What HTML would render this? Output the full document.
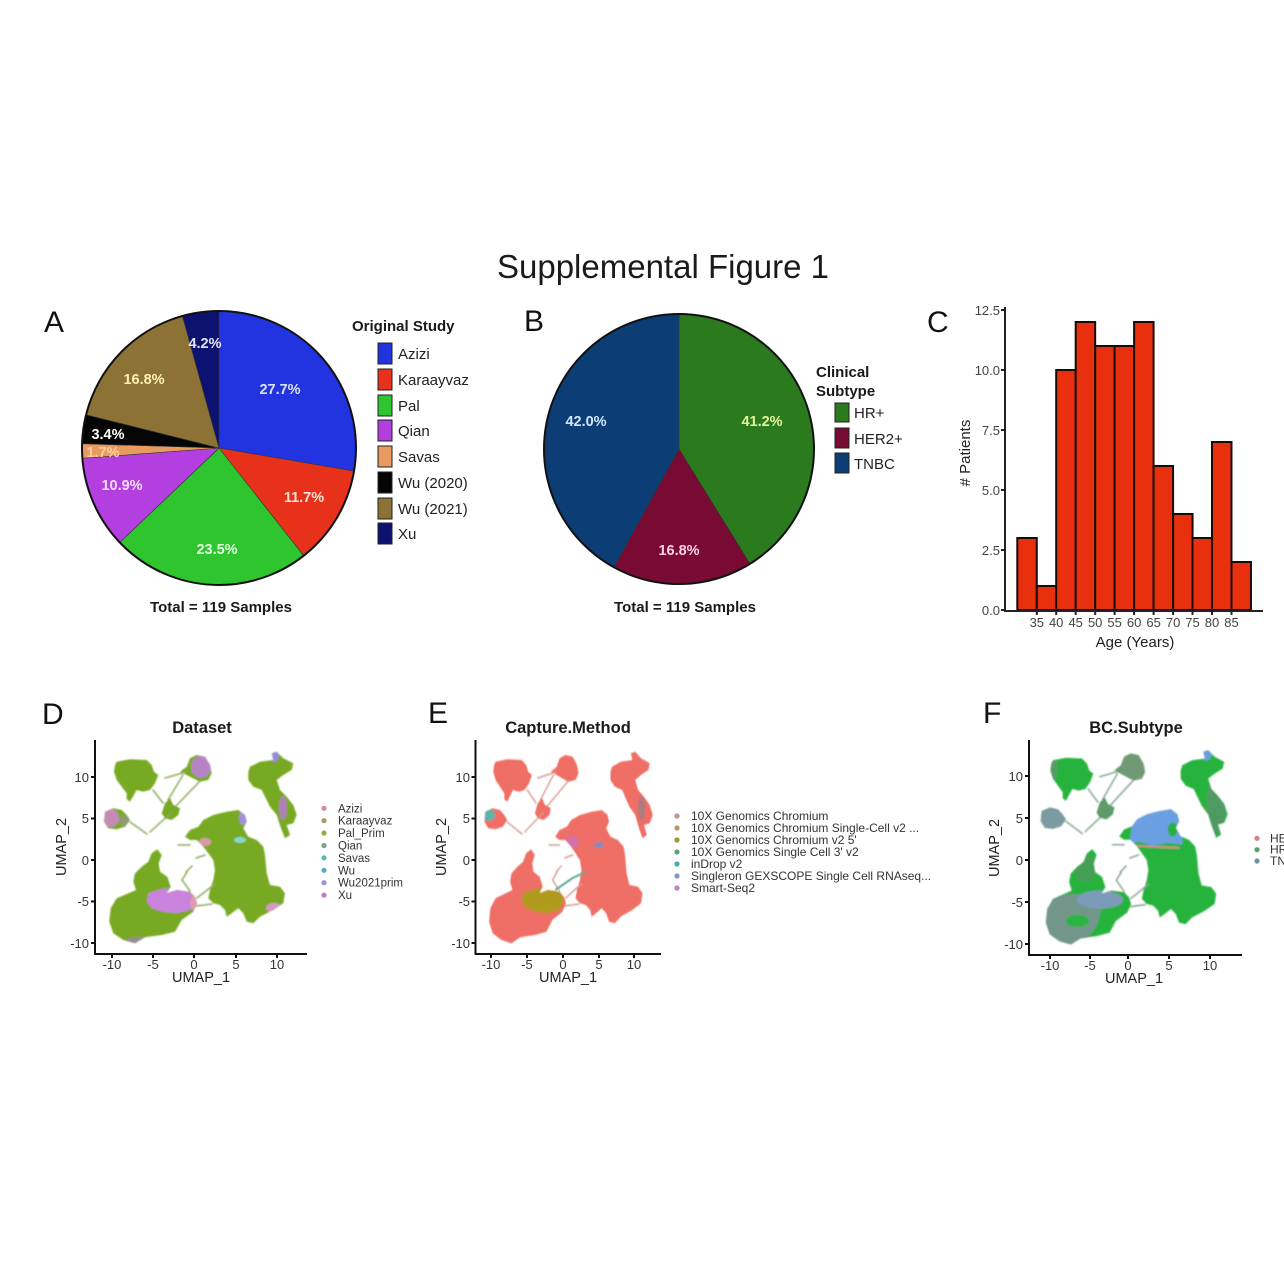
<!DOCTYPE html>
<html><head><meta charset="utf-8"><style>
html,body{margin:0;padding:0;background:#fff;}
svg{display:block;}
text{font-family:"Liberation Sans",Arial,sans-serif;}
</style></head><body>
<svg width="1284" height="1284" viewBox="0 0 1284 1284" xmlns="http://www.w3.org/2000/svg">
<rect width="1284" height="1284" fill="#fff"/>
<defs>
<filter id="soft" x="-5%" y="-5%" width="110%" height="110%"><feGaussianBlur stdDeviation="0.7"/></filter>
<path id="bl" d="M116.7,761.7 L130,759.3 L146.7,760 L151.7,765 L154,771.7 L158.3,775 L155,783.3 L150,790 L143.3,791.7 L136.7,790 L133.3,796 L130,801.7 L126.7,799.3 L126.7,793.3 L121.7,786.7 L116.7,780 L114,771.7 L115,765 Z
M190,758.3 L196.7,755 L205,756.7 L210,765 L211.7,773.3 L208.3,780 L200,781.7 L195,779.3 L190,776.7 L183.3,773.3 L180,771.7 L186.7,766.7 Z
M165,803.3 L170,798.3 L173.3,805 L180,808.3 L178.3,815 L171.7,820 L165,818.3 L161.7,813.3 Z
M105,811.7 L113.3,808.3 L121.7,810 L126.7,815 L130,820 L125,826.7 L116.7,829.3 L108.3,828.3 L104,821.7 Z
M250,766.7 L260,761.7 L273.3,760 L271.7,753.3 L276.7,751.7 L283.3,758.3 L293.3,763.3 L291.7,770 L283.3,775 L276.7,780 L280,790 L286.7,796.7 L293.3,805 L296.7,815 L293.3,823.3 L286.7,825 L290,835 L285,838.3 L281.7,830 L279.3,823.3 L276.7,815 L270,806.7 L265,796.7 L261.7,790 L253.3,786.7 L248.3,780 L248.3,771.7 Z
M198.3,826.7 L203.3,820 L213.3,815 L226.7,811.7 L238.3,810 L245,815 L246.7,821.7 L243.3,828.3 L248.3,836.7 L256.7,840 L263.3,846.7 L265,855 L266.7,873.3 L270,885 L280,886.7 L285,893.3 L283.3,903.3 L273.3,910 L266.7,913.3 L260,916.7 L253.3,923.3 L246.7,921.7 L243.3,913.3 L238.3,908.3 L231.7,913.3 L226.7,916.7 L225,910 L220,905 L213.3,903.3 L208.3,898.3 L210,890 L213.3,880 L215,870 L213.3,860 L208.3,853.3 L203.3,846.7 L196.7,840 L190,840 L185,836.7 L190,830 Z
M135,873.3 L141.7,866.7 L148.3,861.7 L151.7,853.3 L157.3,849.3 L161.7,855 L158.7,863.3 L160,871.7 L167.3,876.7 L170.7,886.7 L166.7,893.3 L176.7,890 L190,891.7 L195,896.7 L197.3,903.3 L193.3,911.7 L181.7,920 L175,931.7 L161.7,935 L145,937.3 L135,943.3 L123.3,940 L113.3,933.3 L109.3,921.7 L110.7,908.3 L116.7,898.3 L126.7,894 L136,890 L133.3,881.7 Z"/>
<clipPath id="cu"><use href="#bl"/></clipPath>
<path id="st" fill="none" stroke-linecap="round" d="M165,778 L186,772 M183,775 L168,800 M200,781 L176,806 M172,812 L150,832 M130,822 L147,834 M153,790 L163,803 M187,872 L182,880 L190,891 M186,872 L192,866 M197,898 L215,884 M196,906 L212,904 M190,845 L178,845 M205,855 L196,858"/>
</defs>

<text x="663" y="278" font-size="33" text-anchor="middle" fill="#1a1a1a">Supplemental Figure 1</text>

<g font-size="30" fill="#111">
<text x="44" y="332">A</text>
<text x="524" y="331">B</text>
<text x="927" y="332">C</text>
<text x="42" y="724">D</text>
<text x="428" y="723">E</text>
<text x="983" y="723">F</text>
</g>

<!-- Pie A -->
<g stroke="#333" stroke-width="0.6">
<path d="M219,448 L219,311 A137,137 0 0 1 354.03,471.13 Z" fill="#2233e0"/>
<path d="M219,448 L354.03,471.13 A137,137 0 0 1 303.65,555.72 Z" fill="#e8311b"/>
<path d="M219,448 L303.65,555.72 A137,137 0 0 1 119.77,542.46 Z" fill="#2ec52e"/>
<path d="M219,448 L119.77,542.46 A137,137 0 0 1 82.39,458.32 Z" fill="#b33fe0"/>
<path d="M219,448 L82.39,458.32 A137,137 0 0 1 82.07,443.70 Z" fill="#e89a60"/>
<path d="M219,448 L82.07,443.70 A137,137 0 0 1 86.09,414.76 Z" fill="#050505"/>
<path d="M219,448 L86.09,414.76 A137,137 0 0 1 182.43,315.97 Z" fill="#8c7234"/>
<path d="M219,448 L182.43,315.97 A137,137 0 0 1 219,311 Z" fill="#0d1270"/>
</g>
<circle cx="219" cy="448" r="137" fill="none" stroke="#111" stroke-width="2"/>
<g font-size="14.5" font-weight="bold" text-anchor="middle">
<text x="280" y="394" fill="#d8e4ff">27.7%</text>
<text x="304" y="502" fill="#ffe2da">11.7%</text>
<text x="217" y="554" fill="#e2ffe0">23.5%</text>
<text x="122" y="490" fill="#f6dcff">10.9%</text>
<text x="103" y="457" fill="#ffd09c">1.7%</text>
<text x="108" y="439" fill="#ffffff">3.4%</text>
<text x="144" y="384" fill="#fff2b4">16.8%</text>
<text x="205" y="348" fill="#e2e4ff">4.2%</text>
</g>
<text x="352" y="331" font-size="15" font-weight="bold" fill="#1a1a1a">Original Study</text>
<g stroke="#222" stroke-width="1">
<rect x="378" y="343" width="14" height="21" fill="#2233e0"/>
<rect x="378" y="369" width="14" height="21" fill="#e8311b"/>
<rect x="378" y="395" width="14" height="21" fill="#2ec52e"/>
<rect x="378" y="420" width="14" height="21" fill="#b33fe0"/>
<rect x="378" y="446" width="14" height="21" fill="#e89a60"/>
<rect x="378" y="472" width="14" height="21" fill="#050505"/>
<rect x="378" y="498" width="14" height="21" fill="#8c7234"/>
<rect x="378" y="523" width="14" height="21" fill="#0d1270"/>
</g>
<g font-size="15" fill="#222">
<text x="398" y="359">Azizi</text>
<text x="398" y="385">Karaayvaz</text>
<text x="398" y="411">Pal</text>
<text x="398" y="436">Qian</text>
<text x="398" y="462">Savas</text>
<text x="398" y="488">Wu (2020)</text>
<text x="398" y="514">Wu (2021)</text>
<text x="398" y="539">Xu</text>
</g>
<text x="221" y="612" font-size="15" font-weight="bold" text-anchor="middle" fill="#1a1a1a">Total = 119 Samples</text>

<!-- Pie B -->
<g stroke="#333" stroke-width="0.6">
<path d="M679,449 L679,314 A135,135 0 0 1 749.90,563.88 Z" fill="#2c7a1e"/>
<path d="M679,449 L749.90,563.88 A135,135 0 0 1 613.96,567.30 Z" fill="#790a34"/>
<path d="M679,449 L613.96,567.30 A135,135 0 0 1 679,314 Z" fill="#0c3d74"/>
</g>
<circle cx="679" cy="449" r="135" fill="none" stroke="#111" stroke-width="2"/>
<g font-size="14.5" font-weight="bold" text-anchor="middle">
<text x="762" y="426" fill="#e2f59c">41.2%</text>
<text x="679" y="555" fill="#ffd2ea">16.8%</text>
<text x="586" y="426" fill="#d0e8ff">42.0%</text>
</g>
<g font-size="15" font-weight="bold" fill="#1a1a1a">
<text x="816" y="377">Clinical</text>
<text x="816" y="396">Subtype</text>
</g>
<g stroke="#222" stroke-width="1">
<rect x="835" y="403" width="14" height="19" fill="#2c7a1e"/>
<rect x="835" y="428" width="14" height="20" fill="#790a34"/>
<rect x="835" y="453" width="14" height="20" fill="#0c3d74"/>
</g>
<g font-size="15" fill="#222">
<text x="854" y="418">HR+</text>
<text x="854" y="444">HER2+</text>
<text x="854" y="469">TNBC</text>
</g>
<text x="685" y="612" font-size="15" font-weight="bold" text-anchor="middle" fill="#1a1a1a">Total = 119 Samples</text>

<!-- Histogram C -->
<g fill="#e8300e" stroke="#1a0a05" stroke-width="2">
<rect x="1017.3" y="538" width="19.47" height="72"/>
<rect x="1036.8" y="586" width="19.47" height="24"/>
<rect x="1056.2" y="370" width="19.47" height="240"/>
<rect x="1075.7" y="322" width="19.47" height="288"/>
<rect x="1095.2" y="346" width="19.47" height="264"/>
<rect x="1114.6" y="346" width="19.47" height="264"/>
<rect x="1134.1" y="322" width="19.47" height="288"/>
<rect x="1153.6" y="466" width="19.47" height="144"/>
<rect x="1173.1" y="514" width="19.47" height="96"/>
<rect x="1192.5" y="538" width="19.47" height="72"/>
<rect x="1212.0" y="442" width="19.47" height="168"/>
<rect x="1231.5" y="562" width="19.47" height="48"/>
</g>
<g stroke="#222" stroke-width="2" fill="none">
<path d="M1005,307 L1005,611 L1263,611"/>
<path d="M1001,310 H1005 M1001,370 H1005 M1001,430 H1005 M1001,490 H1005 M1001,550 H1005 M1001,610 H1005"/>
<path d="M1036.8,611 V615 M1056.2,611 V615 M1075.7,611 V615 M1095.2,611 V615 M1114.6,611 V615 M1134.1,611 V615 M1153.6,611 V615 M1173.1,611 V615 M1192.5,611 V615 M1212,611 V615 M1231.5,611 V615"/>
</g>
<g font-size="13" fill="#444" text-anchor="end">
<text x="1000" y="315">12.5</text>
<text x="1000" y="375">10.0</text>
<text x="1000" y="435">7.5</text>
<text x="1000" y="495">5.0</text>
<text x="1000" y="555">2.5</text>
<text x="1000" y="615">0.0</text>
</g>
<g font-size="13" fill="#444" text-anchor="middle">
<text x="1036.8" y="627">35</text>
<text x="1056.2" y="627">40</text>
<text x="1075.7" y="627">45</text>
<text x="1095.2" y="627">50</text>
<text x="1114.6" y="627">55</text>
<text x="1134.1" y="627">60</text>
<text x="1153.6" y="627">65</text>
<text x="1173.1" y="627">70</text>
<text x="1192.5" y="627">75</text>
<text x="1212" y="627">80</text>
<text x="1231.5" y="627">85</text>
</g>
<text x="1135" y="647" font-size="15" text-anchor="middle" fill="#222">Age (Years)</text>
<text transform="translate(970,453) rotate(-90)" font-size="15" text-anchor="middle" fill="#222"># Patients</text>

<!-- UMAP D -->
<g filter="url(#soft)">
<use href="#bl" fill="#78a922"/>
<use href="#st" stroke="#8aac58" stroke-width="1.5"/>
<g clip-path="url(#cu)">
<ellipse cx="201" cy="767" rx="10" ry="11" fill="#b683c4"/>
<ellipse cx="111" cy="818" rx="8" ry="9" fill="#c58ab6"/>
<ellipse cx="124" cy="821" rx="5" ry="6" fill="#8f9a70"/>
<ellipse cx="274" cy="756" rx="5" ry="6" fill="#9a8ad8"/>
<ellipse cx="283" cy="808" rx="4" ry="12" fill="#b080b8"/>
<ellipse cx="243" cy="818" rx="4" ry="7" fill="#a68ed8"/>
<ellipse cx="205" cy="842" rx="6" ry="4" fill="#d89aa8"/>
<ellipse cx="240" cy="840" rx="6" ry="3" fill="#86d8c8"/>
<path d="M148.3,893.3 L163.3,888.3 L180,889.3 L191.7,893.3 L195,900 L190,910 L176.7,913.3 L163.3,911.7 L151.7,908.3 L146.7,901.7 Z" fill="#c983dc"/>
<ellipse cx="195" cy="903" rx="5" ry="8" fill="#e09ab0"/>
<ellipse cx="274" cy="908" rx="8" ry="5" fill="#d898c0"/>
<ellipse cx="140" cy="941" rx="15" ry="4" fill="#9a8a90"/>
</g>
</g>
<g stroke="#111" stroke-width="2" fill="none">
<path d="M95,740 L95,954 L307,954"/>
<path d="M91,777 H95 M91,818.5 H95 M91,860 H95 M91,901.5 H95 M91,943 H95"/>
<path d="M112,954 V958 M153,954 V958 M194,954 V958 M236,954 V958 M277,954 V958"/>
</g>
<g font-size="13" fill="#333" text-anchor="end">
<text x="89" y="782">10</text>
<text x="89" y="823">5</text>
<text x="89" y="865">0</text>
<text x="89" y="906">-5</text>
<text x="89" y="948">-10</text>
</g>
<g font-size="13" fill="#333" text-anchor="middle">
<text x="112" y="969">-10</text>
<text x="153" y="969">-5</text>
<text x="194" y="969">0</text>
<text x="236" y="969">5</text>
<text x="277" y="969">10</text>
</g>
<text x="202" y="733" font-size="16.5" font-weight="bold" text-anchor="middle" fill="#1a1a1a">Dataset</text>
<text x="201" y="982" font-size="14.5" text-anchor="middle" fill="#222">UMAP_1</text>
<text transform="translate(66,847) rotate(-90)" font-size="14.5" text-anchor="middle" fill="#222">UMAP_2</text>
<g>
<circle cx="324" cy="808.3" r="2.6" fill="#d08aa8"/>
<circle cx="324" cy="820.7" r="2.6" fill="#a89a6a"/>
<circle cx="324" cy="833.1" r="2.6" fill="#8cb040"/>
<circle cx="324" cy="845.5" r="2.6" fill="#7aa88a"/>
<circle cx="324" cy="857.9" r="2.6" fill="#50c0b0"/>
<circle cx="324" cy="870.3" r="2.6" fill="#60a8c8"/>
<circle cx="324" cy="882.7" r="2.6" fill="#a090d8"/>
<circle cx="324" cy="895.1" r="2.6" fill="#c080c0"/>
</g>
<g font-size="11.5" fill="#333">
<text x="338" y="812.3">Azizi</text>
<text x="338" y="824.7">Karaayvaz</text>
<text x="338" y="837.1">Pal_Prim</text>
<text x="338" y="849.5">Qian</text>
<text x="338" y="861.9">Savas</text>
<text x="338" y="874.3">Wu</text>
<text x="338" y="886.7">Wu2021prim</text>
<text x="338" y="899.1">Xu</text>
</g>

<!-- UMAP E -->
<g transform="matrix(0.873,0,0,1,393.7,0)" filter="url(#soft)">
<use href="#bl" fill="#ef6e65"/>
<use href="#st" stroke="#d89a8e" stroke-width="1.5"/>
<g clip-path="url(#cu)">
<path d="M148.3,893.3 L163.3,888.3 L180,889.3 L191.7,893.3 L195,900 L190,910 L176.7,913.3 L163.3,911.7 L151.7,908.3 L146.7,901.7 Z" fill="#b09a1c"/>
<ellipse cx="109" cy="815" rx="7" ry="6" fill="#5fb2a6"/>
<ellipse cx="284" cy="808" rx="4" ry="12" fill="#b07a80"/>
<ellipse cx="204" cy="842" rx="8" ry="6" fill="#d070b8" opacity="0.8"/>
<ellipse cx="235" cy="845" rx="6" ry="3" fill="#8a8ab8"/>
<ellipse cx="278" cy="909" rx="4" ry="2" fill="#60b060"/>
</g>
<path d="M185,890 L205,878 L220,872" stroke="#4aa88e" stroke-width="2" fill="none"/>
</g>
<g stroke="#111" stroke-width="2" fill="none">
<path d="M475.5,740 L475.5,954 L661,954"/>
<path d="M471.5,777 H475.5 M471.5,818.5 H475.5 M471.5,860 H475.5 M471.5,901.5 H475.5 M471.5,943 H475.5"/>
<path d="M491,954 V958 M527,954 V958 M563,954 V958 M599,954 V958 M634,954 V958"/>
</g>
<g font-size="13" fill="#333" text-anchor="end">
<text x="470" y="782">10</text>
<text x="470" y="823">5</text>
<text x="470" y="865">0</text>
<text x="470" y="906">-5</text>
<text x="470" y="948">-10</text>
</g>
<g font-size="13" fill="#333" text-anchor="middle">
<text x="491" y="969">-10</text>
<text x="527" y="969">-5</text>
<text x="563" y="969">0</text>
<text x="599" y="969">5</text>
<text x="634" y="969">10</text>
</g>
<text x="568" y="733" font-size="16.5" font-weight="bold" text-anchor="middle" fill="#1a1a1a">Capture.Method</text>
<text x="568" y="982" font-size="14.5" text-anchor="middle" fill="#222">UMAP_1</text>
<text transform="translate(446,847) rotate(-90)" font-size="14.5" text-anchor="middle" fill="#222">UMAP_2</text>
<g>
<circle cx="677" cy="816" r="2.6" fill="#c0948c"/>
<circle cx="677" cy="828" r="2.6" fill="#a89c60"/>
<circle cx="677" cy="840" r="2.6" fill="#9a9a30"/>
<circle cx="677" cy="852" r="2.6" fill="#58a878"/>
<circle cx="677" cy="864" r="2.6" fill="#40b0a8"/>
<circle cx="677" cy="876" r="2.6" fill="#8890c8"/>
<circle cx="677" cy="888" r="2.6" fill="#c080b8"/>
</g>
<g font-size="12" fill="#333">
<text x="691" y="820">10X Genomics Chromium</text>
<text x="691" y="832">10X Genomics Chromium Single-Cell v2 ...</text>
<text x="691" y="844">10X Genomics Chromium v2 5'</text>
<text x="691" y="856">10X Genomics Single Cell 3' v2</text>
<text x="691" y="868">inDrop v2</text>
<text x="691" y="880">Singleron GEXSCOPE Single Cell RNAseq...</text>
<text x="691" y="892">Smart-Seq2</text>
</g>

<!-- UMAP F -->
<g transform="matrix(0.97,0,0,1.015,939.8,-12.9)" filter="url(#soft)">
<use href="#bl" fill="#26b33e"/>
<use href="#st" stroke="#86a494" stroke-width="1.5"/>
<g clip-path="url(#cu)">
<path d="M105,900 L135,893 L150,895 L168,903 L162,925 L150,940 L120,946 L104,930 Z" fill="#73968a"/>
<ellipse cx="165" cy="899" rx="24" ry="9" fill="#7b9bb8"/>
<ellipse cx="142" cy="920" rx="12" ry="6" fill="#2cb442"/>
<ellipse cx="197" cy="769" rx="16" ry="14" fill="#6f9a74"/>
<ellipse cx="117" cy="819" rx="14" ry="11" fill="#7b9aa2"/>
<ellipse cx="170" cy="810" rx="10" ry="11" fill="#5f9a6a"/>
<ellipse cx="150" cy="868" rx="12" ry="14" fill="#44a055"/>
<ellipse cx="285" cy="805" rx="10" ry="30" fill="#4e9b62"/>
<ellipse cx="274" cy="756" rx="6" ry="6" fill="#6b9de0"/>
<ellipse cx="116" cy="770" rx="5" ry="12" fill="#5a9a68"/>
<path d="M195,845 L200,815 L215,808 L240,806 L250,815 L250,845 L235,843 L220,846 L205,842 Z" fill="#6b9fe2"/>
<ellipse cx="240" cy="830" rx="5" ry="7" fill="#2ab040"/>
<ellipse cx="190" cy="843" rx="9" ry="2.5" fill="#e06a6a"/>
<path d="M200,846 L247,848" stroke="#d08a8a" stroke-width="2"/>
</g>
</g>
<g stroke="#111" stroke-width="2" fill="none">
<path d="M1029,740 L1029,955 L1242,955"/>
<path d="M1025,776 H1029 M1025,818 H1029 M1025,860 H1029 M1025,902 H1029 M1025,944 H1029"/>
<path d="M1050,955 V959 M1090,955 V959 M1128,955 V959 M1169,955 V959 M1210,955 V959"/>
</g>
<g font-size="13" fill="#333" text-anchor="end">
<text x="1023" y="781">10</text>
<text x="1023" y="823">5</text>
<text x="1023" y="865">0</text>
<text x="1023" y="907">-5</text>
<text x="1023" y="949">-10</text>
</g>
<g font-size="13" fill="#333" text-anchor="middle">
<text x="1050" y="970">-10</text>
<text x="1090" y="970">-5</text>
<text x="1128" y="970">0</text>
<text x="1169" y="970">5</text>
<text x="1210" y="970">10</text>
</g>
<text x="1136" y="733" font-size="16.5" font-weight="bold" text-anchor="middle" fill="#1a1a1a">BC.Subtype</text>
<text x="1134" y="983" font-size="14.5" text-anchor="middle" fill="#222">UMAP_1</text>
<text transform="translate(999,848) rotate(-90)" font-size="14.5" text-anchor="middle" fill="#222">UMAP_2</text>
<circle cx="1257" cy="838.3" r="2.6" fill="#d88080"/>
<circle cx="1257" cy="849.7" r="2.6" fill="#50a070"/>
<circle cx="1257" cy="861" r="2.6" fill="#7090a8"/>
<g font-size="12" fill="#333">
<text x="1270" y="842.3">HER2+</text>
<text x="1270" y="853.7">HR+</text>
<text x="1270" y="865">TNBC</text>
</g>
</svg>
</body></html>
